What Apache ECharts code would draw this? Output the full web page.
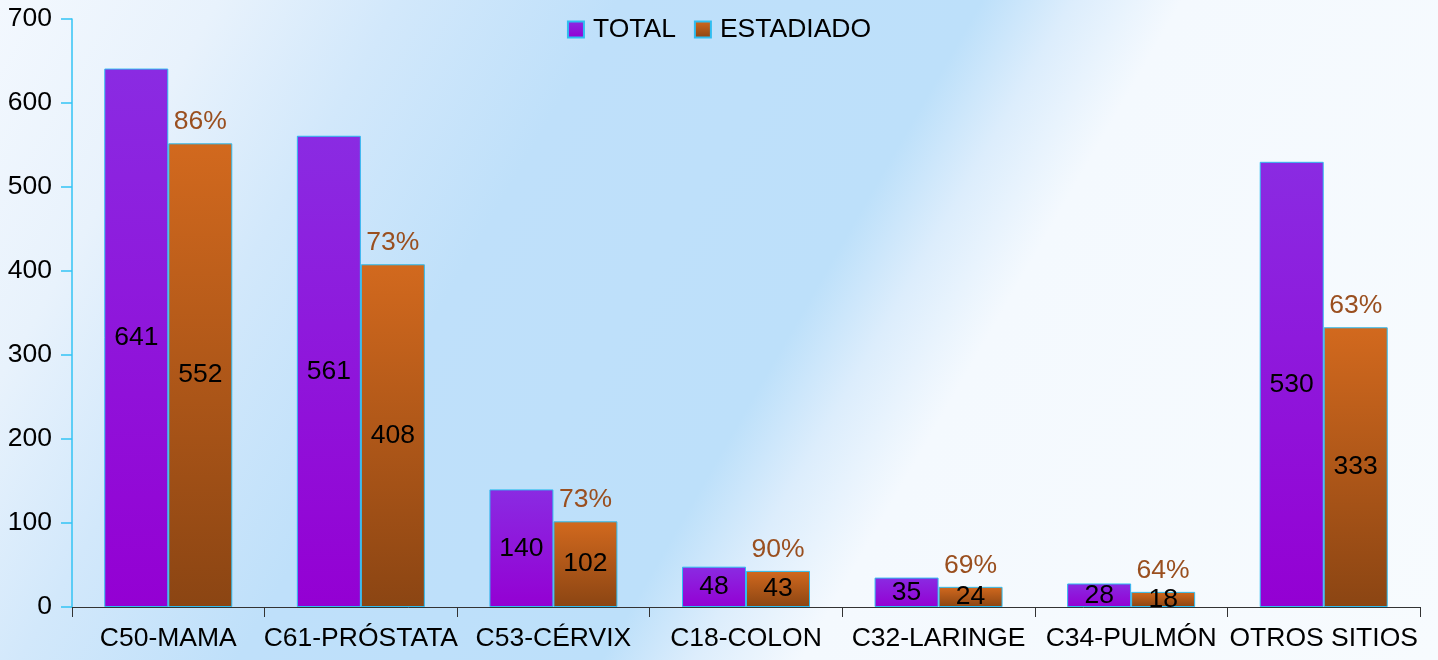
<!DOCTYPE html>
<html>
<head>
<meta charset="utf-8">
<script src="https://cdn.jsdelivr.net/npm/echarts@6/dist/echarts.min.js"></script>
<style>
  html, body { margin: 0; padding: 0; }
  #chart {
    width: 1438px; height: 660px;
    background: linear-gradient(120deg, #f3f8fe 0%, #e8f2fc 12%, #d2e8fb 22%, #bfe0fa 34%, #bde0fa 54%, #dcedfc 59%, #f4f9fe 65%, #f7fbfe 100%);
  }
</style>
</head>
<body>
<div id="chart"></div>
<script>
var categories = ['C50-MAMA', 'C61-PRÓSTATA', 'C53-CÉRVIX', 'C18-COLON', 'C32-LARINGE', 'C34-PULMÓN', 'OTROS SITIOS'];
var total = [641, 561, 140, 48, 35, 28, 530];
var estadiado = [552, 408, 102, 43, 24, 18, 333];
var yTicks = { min: 0, max: 700, interval: 100 };

var font = '"Liberation Sans", Arial, sans-serif';
var fs = 26.5;

var purple = new echarts.graphic.LinearGradient(0, 0, 0, 1, [
  { offset: 0, color: '#8a2be2' }, { offset: 1, color: '#9400d3' }
]);
var orange = new echarts.graphic.LinearGradient(0, 0, 0, 1, [
  { offset: 0, color: '#d2691e' }, { offset: 1, color: '#8b4513' }
]);

var insideLabel = {
  show: true, position: 'inside', color: '#000', fontSize: fs, fontFamily: font
};

var option = {
  backgroundColor: 'transparent',
  animation: false,
  textStyle: { fontFamily: font },
  legend: {
    data: ['TOTAL', 'ESTADIADO'],
    top: 11,
    left: 'center',
    itemWidth: 16, itemHeight: 16, itemGap: 18,
    icon: 'rect',
    textStyle: { fontSize: fs, color: '#000', fontFamily: font, padding: [0, 0, 0, 4] }
  },
  grid: { left: 72, right: 18, top: 19, bottom: 53 },
  xAxis: {
    type: 'category',
    data: categories,
    axisLine: { lineStyle: { color: '#333', width: 1 } },
    axisTick: { show: true, length: 10, lineStyle: { color: '#333' } },
    axisLabel: { color: '#000', fontSize: fs, fontFamily: font, margin: 18, interval: 0 }
  },
  yAxis: {
    type: 'value',
    min: yTicks.min, max: yTicks.max, interval: yTicks.interval,
    splitLine: { show: false },
    axisLine: { show: true, lineStyle: { color: '#33c3f5', width: 1.5 } },
    axisTick: { show: true, length: 11, lineStyle: { color: '#33c3f5', width: 1.5 } },
    axisLabel: { color: '#000', fontSize: fs, fontFamily: font, margin: 20 }
  },
  series: [
    {
      name: 'TOTAL', type: 'bar', data: total,
      barWidth: 64, barGap: '0%',
      itemStyle: { color: purple, borderColor: '#2fbdf0', borderWidth: 1 },
      label: insideLabel
    },
    {
      name: 'ESTADIADO', type: 'bar', data: estadiado, stack: 'est',
      barWidth: 64, barGap: '0%',
      itemStyle: { color: orange, borderColor: '#2fbdf0', borderWidth: 1 },
      label: insideLabel
    },
    {
      // zero-height bar stacked on ESTADIADO that carries the percentage label
      name: 'pct', type: 'bar', stack: 'est',
      data: estadiado.map(function () { return 0; }),
      barWidth: 64,
      itemStyle: { color: 'transparent', borderWidth: 0 },
      label: {
        show: true, position: 'top', distance: 8,
        color: '#9a4f1f', fontSize: fs, fontFamily: font,
        formatter: function (p) {
          return Math.round(estadiado[p.dataIndex] / total[p.dataIndex] * 100) + '%';
        }
      },
      tooltip: { show: false }
    }
  ]
};

var chart = echarts.init(document.getElementById('chart'));
chart.setOption(option);
</script>
</body>
</html>
